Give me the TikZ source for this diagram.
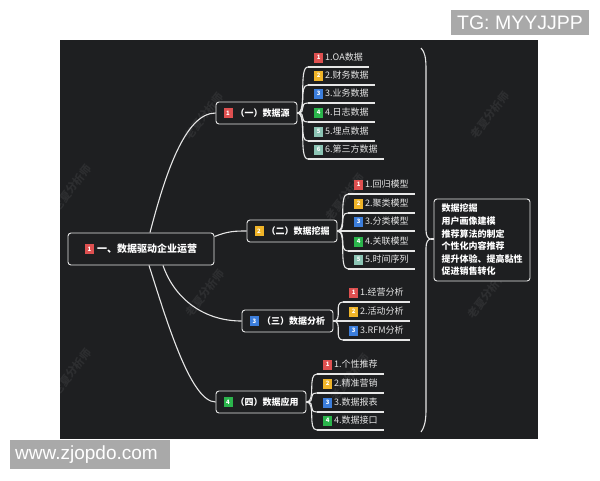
\documentclass[tikz,border=0pt]{standalone}
\usepackage{fontspec}
\setmainfont{Noto Sans CJK SC}
\newfontfamily\latf{Liberation Sans}
\usetikzlibrary{calc}
\definecolor{bg}{HTML}{1E1F21}
\definecolor{wmc}{HTML}{2D2E30}
\definecolor{ln}{HTML}{E6E6E6}
\definecolor{bred}{HTML}{DE5050}
\definecolor{byel}{HTML}{F0B428}
\definecolor{bblu}{HTML}{3C7EDC}
\definecolor{bgrn}{HTML}{2BB54C}
\definecolor{btea}{HTML}{8CC4B4}
\definecolor{gbox}{HTML}{A9A9A9}
\newcommand\bdg[2]{\raisebox{1pt}{\setlength{\fboxsep}{0pt}\colorbox{#1}{\parbox[c][10pt][c]{9pt}{\centering\color{white}\fontsize{6}{6}\selectfont\bfseries #2}}}}
\tikzset{
  conn/.style={draw=ln, line width=1.1pt},
  uline/.style={draw=ln, line width=1.1pt},
  mainbox/.style={draw=ln, fill=bg, rounded corners=3pt, line width=0.9pt, minimum height=22pt, inner xsep=6pt, inner ysep=0pt, font=\fontsize{9}{11}\selectfont\bfseries, text=white},
  leafbox/.style={anchor=south west, inner xsep=6pt, inner ysep=4pt, text height=8pt, text depth=2pt, font=\fontsize{9}{11}\selectfont, text=ln},
  sumbox/.style={draw=ln, fill=bg, rounded corners=3pt, line width=0.9pt, minimum width=96pt, minimum height=82pt, inner sep=0pt, align=left, font=\fontsize{9}{12.6}\selectfont\bfseries, text=white},
  wmark/.style={text=wmc, font=\fontsize{11}{11}\selectfont\bfseries, rotate=52},
  graybox/.style={fill=gbox, text=white, inner sep=0pt}
}
\newcommand\leaf[6]{%
  \node[leafbox] (#1) at (#2,#3) {\bdg{#4}{#5}\hspace{2pt}#6};
  \draw[uline] (#1.south west) -- (#1.south east);}
\newcommand\fan[2]{\draw[conn] (#1.east) .. controls +(10,0) and +(-10,0) .. (#2.south west);}
\begin{document}
\begin{tikzpicture}[x=1pt,y=-1pt]
\useasboundingbox (0,0) rectangle (600,480);
\fill[white] (0,0) rectangle (600,480);
\fill[bg] (60,40) rectangle (538,439);
% watermarks
\begin{scope}
\clip (60,40) rectangle (538,439);
\node[wmark] (w1) at (204,116) {老夏分析师};
\node[wmark] (w2) at (72,188) {老夏分析师};
\node[wmark] (w3) at (490,115) {老夏分析师};
\node[wmark] (w4) at (345,197) {老夏分析师};
\node[wmark] (w5) at (205,293) {老夏分析师};
\node[wmark] (w6) at (72,372) {老夏分析师};
\node[wmark] (w7) at (487,295) {老夏分析师};
\node[wmark] (w8) at (350,377) {老夏分析师};
\end{scope}
% main nodes
\node[mainbox, minimum width=146pt, minimum height=32pt, font=\fontsize{10}{12}\selectfont\bfseries] (root) at (141,249) {\bdg{bred}{1}\hspace{3pt}一、数据驱动企业运营};
\node[mainbox, minimum width=81pt] (n1) at (256.5,113) {\bdg{bred}{1}\hspace{3pt}（一）数据源};
\node[mainbox, minimum width=90pt] (n2) at (292,231) {\bdg{byel}{2}\hspace{3pt}（二）数据挖掘};
\node[mainbox, minimum width=91pt] (n3) at (287.5,321) {\bdg{bblu}{3}\hspace{3pt}（三）数据分析};
\node[mainbox, minimum width=90pt] (n4) at (261,402) {\bdg{bgrn}{4}\hspace{3pt}（四）数据应用};
% root connectors
\draw[conn] ($(root.north)+(9,0)$) .. controls (165,175) and (185,113) .. (n1.west);
\draw[conn] ($(root.north east)+(0,4)$) .. controls (228,231) and (236,231) .. (n2.west);
\draw[conn] ($(root.south)+(22,0)$) .. controls (175,300) and (205,321) .. (n3.west);
\draw[conn] ($(root.south)+(8,0)$) .. controls (165,315) and (190,402) .. (n4.west);
% leaves of n1
\leaf{a1}{308}{67}{bred}{1}{1.OA数据}
\leaf{a2}{308}{85}{byel}{2}{2.财务数据}
\leaf{a3}{308}{103}{bblu}{3}{3.业务数据}
\leaf{a4}{308}{122}{bgrn}{4}{4.日志数据}
\leaf{a5}{308}{141}{btea}{5}{5.埋点数据}
\leaf{a6}{308}{159}{btea}{6}{6.第三方数据}
\foreach \l in {a1,a2,a3,a4,a5,a6} {\fan{n1}{\l}}
% leaves of n2
\leaf{b1}{348}{194}{bred}{1}{1.回归模型}
\leaf{b2}{348}{213}{byel}{2}{2.聚类模型}
\leaf{b3}{348}{231}{bblu}{3}{3.分类模型}
\leaf{b4}{348}{251}{bgrn}{4}{4.关联模型}
\leaf{b5}{348}{269}{btea}{5}{5.时间序列}
\foreach \l in {b1,b2,b3,b4,b5} {\fan{n2}{\l}}
% leaves of n3
\leaf{c1}{343}{302}{bred}{1}{1.经营分析}
\leaf{c2}{343}{321}{byel}{2}{2.活动分析}
\leaf{c3}{343}{340}{bblu}{3}{3.RFM分析}
\foreach \l in {c1,c2,c3} {\fan{n3}{\l}}
% leaves of n4
\leaf{d1}{317}{374}{bred}{1}{1.个性推荐}
\leaf{d2}{317}{393}{byel}{2}{2.精准营销}
\leaf{d3}{317}{412}{bblu}{3}{3.数据报表}
\leaf{d4}{317}{430}{bgrn}{4}{4.数据接口}
\foreach \l in {d1,d2,d3,d4} {\fan{n4}{\l}}
% summary
\node[sumbox] (sum) at (482,240) {数据挖掘\\用户画像建模\\推荐算法的制定\\个性化内容推荐\\提升体验、提高黏性\\促进销售转化};
\draw[conn] (421,48) .. controls (425,52) and (426,58) .. (426,70) -- (426,230) .. controls (426,236) and (428,239) .. (431,239) .. controls (428,239) and (426,242) .. (426,248) -- (426,410) .. controls (426,422) and (424,428) .. (421,432);
\coordinate (bm) at (431,239);
\draw[conn] (bm) -- (bm -| sum.west);
% gray labels
\node[graybox, minimum width=138pt, minimum height=25pt, font=\latf\fontsize{19.5}{20}\selectfont] (tg) at (520,22.5) {TG: MYYJJPP};
\node[graybox, anchor=west, inner xsep=5pt, text width=150pt, align=left, minimum height=29pt, font=\latf\fontsize{19}{20}\selectfont] (web) at (10,454.5) {www.zjopdo.com};
\end{tikzpicture}
\end{document}
